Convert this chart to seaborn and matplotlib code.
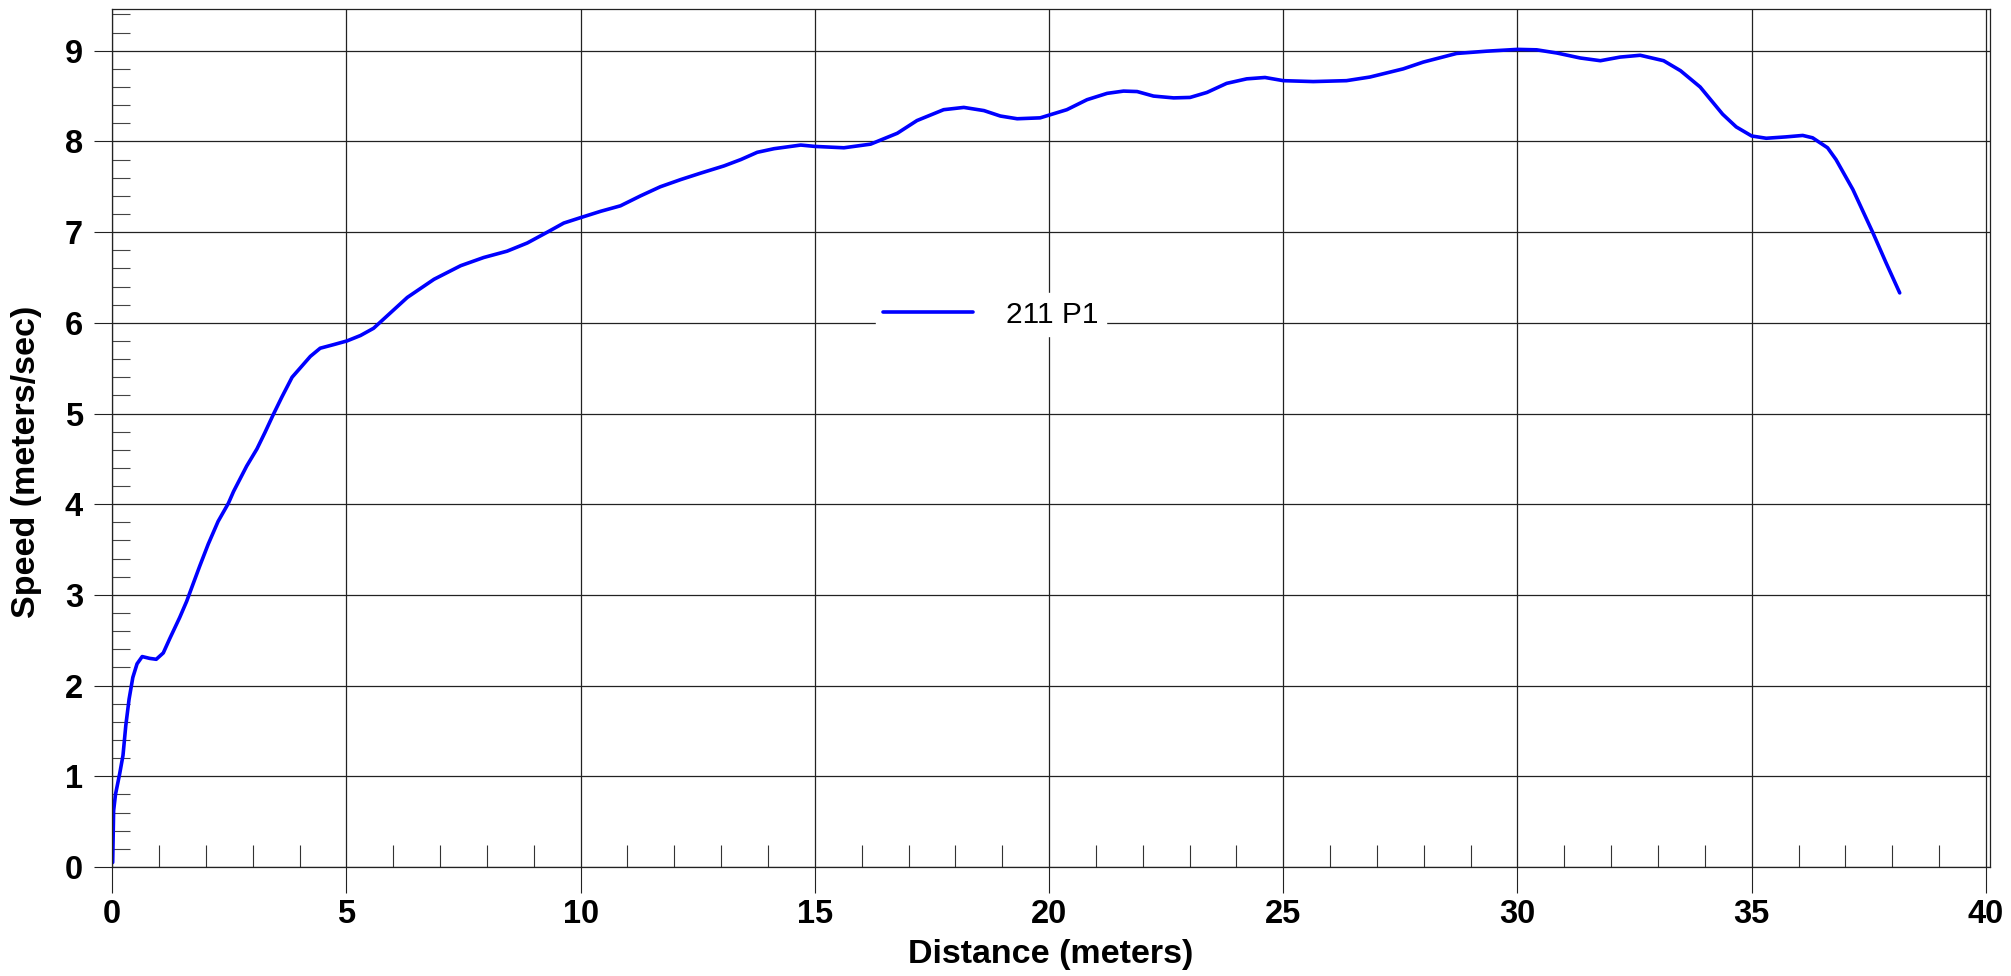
import numpy as np
import pandas as pd
import seaborn as sns
import matplotlib.pyplot as plt
from matplotlib.ticker import MultipleLocator

# -------------------------
# Data
# -------------------------
distance = [0.01, 0.03, 0.07, 0.16, 0.23, 0.29, 0.36, 0.44, 0.53, 0.64,
            0.80, 0.94, 1.09, 1.23, 1.44, 1.59, 1.69, 1.87, 2.05, 2.26,
            2.48, 2.59, 2.87, 3.09, 3.26, 3.44, 3.62, 3.84, 4.01, 4.23,
            4.44, 4.73, 5.01, 5.30, 5.58, 5.94, 6.30, 6.87, 7.44, 7.93,
            8.43, 8.86, 9.29, 9.64, 10.0, 10.43, 10.85, 11.28, 11.70, 12.14,
            12.56, 13.06, 13.42, 13.77, 14.13, 14.70, 15.0, 15.62, 16.19, 16.76,
            17.18, 17.75, 18.18, 18.61, 18.96, 19.32, 19.81, 20.38, 20.81, 21.24,
            21.59, 21.88, 22.23, 22.66, 23.01, 23.37, 23.79, 24.22, 24.61, 25.0,
            25.64, 26.35, 26.85, 27.56, 27.99, 28.70, 29.34, 30.0, 30.41, 30.84,
            31.34, 31.77, 32.19, 32.62, 33.12, 33.48, 33.90, 34.38, 34.67, 35.0,
            35.31, 35.73, 36.09, 36.30, 36.62, 36.80, 37.16, 37.59, 37.87, 38.16]
speed = [0.05, 0.62, 0.80, 1.03, 1.23, 1.56, 1.85, 2.09, 2.24, 2.32,
         2.30, 2.29, 2.36, 2.52, 2.75, 2.93, 3.07, 3.32, 3.56, 3.81,
         4.01, 4.14, 4.42, 4.61, 4.79, 4.99, 5.18, 5.40, 5.50, 5.63,
         5.72, 5.76, 5.80, 5.86, 5.94, 6.11, 6.28, 6.48, 6.63, 6.72,
         6.79, 6.88, 7.00, 7.10, 7.16, 7.23, 7.29, 7.40, 7.50, 7.58,
         7.65, 7.73, 7.80, 7.88, 7.92, 7.96, 7.945, 7.93, 7.97, 8.09,
         8.23, 8.35, 8.375, 8.34, 8.28, 8.25, 8.26, 8.35, 8.46, 8.53,
         8.555, 8.55, 8.50, 8.48, 8.485, 8.54, 8.64, 8.69, 8.705, 8.67,
         8.66, 8.67, 8.71, 8.80, 8.875, 8.97, 8.995, 9.015, 9.01, 8.975,
         8.92, 8.89, 8.93, 8.95, 8.89, 8.78, 8.60, 8.30, 8.16, 8.06,
         8.035, 8.05, 8.066, 8.04, 7.93, 7.80, 7.47, 6.99, 6.66, 6.33]
series_name = "211 P1"
x_label = "Distance (meters)"
y_label = "Speed (meters/sec)"

df = pd.DataFrame({"distance": distance, "speed": speed})

# -------------------------
# Style
# -------------------------
sns.set_style("white")
plt.rcParams["font.family"] = ["Liberation Sans", "DejaVu Sans"]
plt.rcParams["text.color"] = "black"
plt.rcParams["axes.labelcolor"] = "black"
plt.rcParams["lines.solid_joinstyle"] = "round"

fig = plt.figure(figsize=(20.11, 9.76), dpi=100)
ax = fig.add_axes([0.0558, 0.1117, 0.9337, 0.8786])

sns.lineplot(data=df, x="distance", y="speed", color="#0000ff", lw=2.6,
             estimator=None, sort=False, label=series_name, ax=ax)

ax.set_xlim(0, 40.085)
ax.set_ylim(0, 9.455)
ax.xaxis.set_major_locator(MultipleLocator(5))
ax.xaxis.set_minor_locator(MultipleLocator(1))
ax.yaxis.set_major_locator(MultipleLocator(1))
ax.yaxis.set_minor_locator(MultipleLocator(0.2))

ax.grid(True, which="major", color="#222222", lw=0.9)
ax.tick_params(which="both", bottom=True, left=True, top=False, right=False)
ax.tick_params(axis="x", which="major", direction="out", length=19, width=0.8,
               color="#222222", pad=4, labelsize=23.5, labelcolor="black")
ax.tick_params(axis="y", which="major", direction="out", length=13, width=0.8,
               color="#222222", pad=8, labelsize=23.5, labelcolor="black")
ax.tick_params(axis="x", which="minor", direction="in", length=16, width=0.8,
               color="#333333")
ax.tick_params(axis="y", which="minor", direction="in", length=13, width=0.8,
               color="#444444")
for lab in ax.get_xticklabels() + ax.get_yticklabels():
    lab.set_fontweight("bold")

for sp in ax.spines.values():
    sp.set_visible(True)
    sp.set_color("#222222")
    sp.set_linewidth(0.9)

ax.set_xlabel(x_label, fontsize=24.5, fontweight="bold", color="black")
ax.set_ylabel(y_label, fontsize=24.5, fontweight="bold", color="black")
ax.xaxis.set_label_coords(0.5, -0.1026)
ax.xaxis.label.set_va("center")
ax.yaxis.set_label_coords(-0.0454, 0.472)
ax.yaxis.label.set_va("center")

leg = ax.legend(loc="center", bbox_to_anchor=(0.468, 0.644), fontsize=21.5,
                frameon=True, facecolor="white", edgecolor="white",
                framealpha=1, fancybox=False, handlelength=3.0,
                handletextpad=1.1, borderpad=0.25, borderaxespad=0)
leg.get_lines()[0].set_linewidth(2.6)
for t in leg.get_texts():
    t.set_color("black")

fig.savefig("out.png", dpi=100, facecolor="white")
